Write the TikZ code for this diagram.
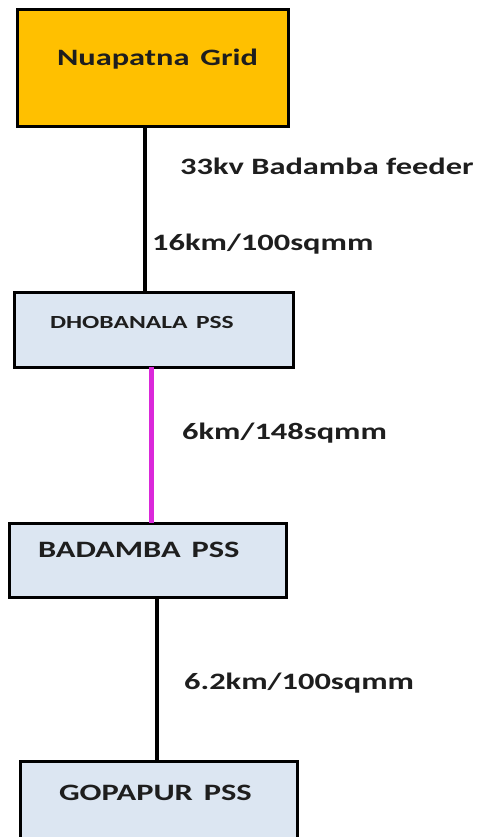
\documentclass[tikz,border=0pt]{standalone}
\usepackage{fontspec}
\usepackage{graphicx}
\setmainfont{Carlito}
\definecolor{gridorange}{RGB}{255,192,0}
\definecolor{pssblue}{RGB}{220,230,242}
\definecolor{linemagenta}{RGB}{218,40,218}
\definecolor{inkdark}{RGB}{30,30,30}
\newcommand{\widetext}[1]{\scalebox{1.38}[1]{#1}}
\begin{document}
\begin{tikzpicture}[x=1pt, y=-1pt,
    box/.style={draw, line width=3pt, inner sep=0pt, outer sep=0pt, anchor=north west,
      align=left, text=inkdark, font=\bfseries\fontsize{23.5}{28}\selectfont},
    pss/.style={box, fill=pssblue, text width=277pt},
    feeder/.style={line width=3.5pt},
    cablelabel/.style={anchor=base west, inner sep=0pt, text=inkdark,
      font=\bfseries\fontsize{23.5}{28}\selectfont}]
    \useasboundingbox (0,0) rectangle (481,837);
    \node[box, fill=gridorange, text width=271pt, text height=55.5pt, text depth=61.5pt]
      (grid) at (17,10) {\hspace*{40pt}\widetext{Nuapatna Grid}};
    \node[pss, text width=279pt, text height=36pt, text depth=39pt,
      font=\bfseries\fontsize{18.5}{22}\selectfont]
      (dhob) at (14,292) {\hspace*{36pt}\widetext{DHOBANALA PSS}};
    \node[pss, text height=34.5pt, text depth=39.5pt]
      (badamba) at (9,523) {\hspace*{29pt}\widetext{BADAMBA PSS}};
    \node[pss, text height=39.5pt, text depth=40pt]
      (gopapur) at (20,761) {\hspace*{39pt}\widetext{GOPAPUR PSS}};
    % lines between substations
    \draw[feeder] ([xshift=-7.5pt]grid.south) -- ([xshift=-7.5pt]grid.south |- dhob.north);
    \draw[feeder, line width=4.5pt, linemagenta] ([xshift=-2pt]dhob.south) -- ([xshift=-2pt]dhob.south |- badamba.north);
    \draw[feeder] ([xshift=9.5pt]badamba.south) -- ([xshift=9.5pt]badamba.south |- gopapur.north);
    \node[cablelabel] (feedername) at (180,174.5) {\widetext{33kv Badamba feeder}};
    \node[cablelabel] (cable1) at (152,250.5) {\widetext{16km/100sqmm}};
    \node[cablelabel] (cable2) at (182,439.5) {\widetext{6km/148sqmm}};
    \node[cablelabel] (cable3) at (184,689.5) {\widetext{6.2km/100sqmm}};
\end{tikzpicture}
\end{document}
